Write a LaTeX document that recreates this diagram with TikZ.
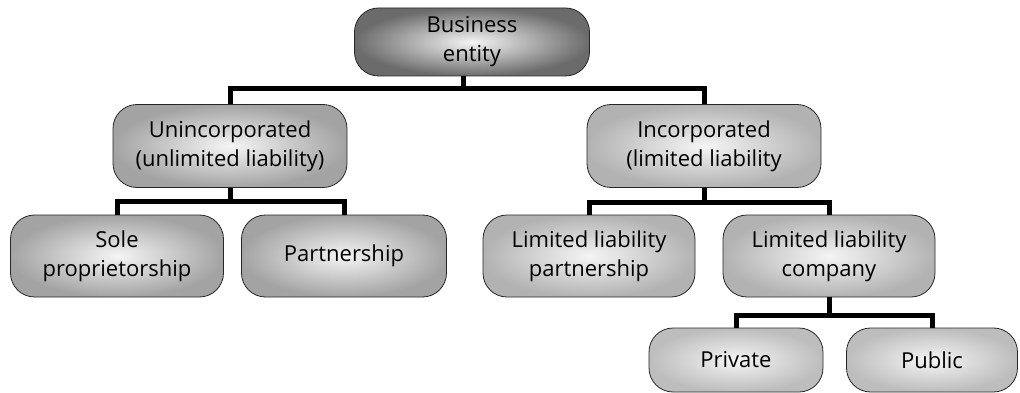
\documentclass[tikz,border=0pt]{standalone}
\usepackage{fontspec}
\setmainfont{Open Sans}
\begin{document}
\begin{tikzpicture}[x=1pt,y=-1pt,
ent/.style={draw=black!85,line width=0.8pt,rounded corners=24pt,inner sep=0pt,align=center,
  inner color=black!4,outer color=#1,font=\fontsize{22}{29}\selectfont},
ent/.default=black!30,
lnk/.style={line width=5pt}]
\useasboundingbox (0,0) rectangle (1020,393);
\node[ent=black!58,minimum width=235pt,minimum height=68pt] (be) at (472,42) {Business\\entity};
\node[ent=black!36,minimum width=234pt,minimum height=83pt] (uninc) at (230,146) {Unincorporated\\(unlimited liability)};
\node[ent,minimum width=234pt,minimum height=83pt] (inc) at (704,146) {Incorporated\\(limited liability};
\node[ent=black!36,minimum width=213pt,minimum height=82pt] (sole) at (117,256) {Sole\\proprietorship};
\node[ent=black!36,minimum width=205pt,minimum height=82pt] (part) at (344,256) {Partnership};
\node[ent,minimum width=212pt,minimum height=82pt] (llp) at (589,256) {Limited liability\\partnership};
\node[ent,minimum width=212pt,minimum height=82pt] (llc) at (829,256) {Limited liability\\company};
\node[ent=black!26,minimum width=174pt,minimum height=64pt] (priv) at (736,360) {Private};
\node[ent=black!26,minimum width=171pt,minimum height=64pt] (pub) at (932,360) {Public};
\draw[lnk] ([xshift=-9pt]be.south) -- ++(0,12) coordinate (j1) -| (uninc.north);
\draw[lnk] (j1) -| (inc.north);
\draw[lnk] (uninc.south) -- ++(0,14) coordinate (j2) -| (sole.north);
\draw[lnk] (j2) -| (part.north);
\draw[lnk] (inc.south) -- ++(0,15) coordinate (j3) -| (llp.north);
\draw[lnk] (j3) -| (llc.north);
\draw[lnk] (llc.south) -- ++(0,18) coordinate (j4) -| (priv.north);
\draw[lnk] (j4) -| (pub.north);
\end{tikzpicture}
\end{document}
